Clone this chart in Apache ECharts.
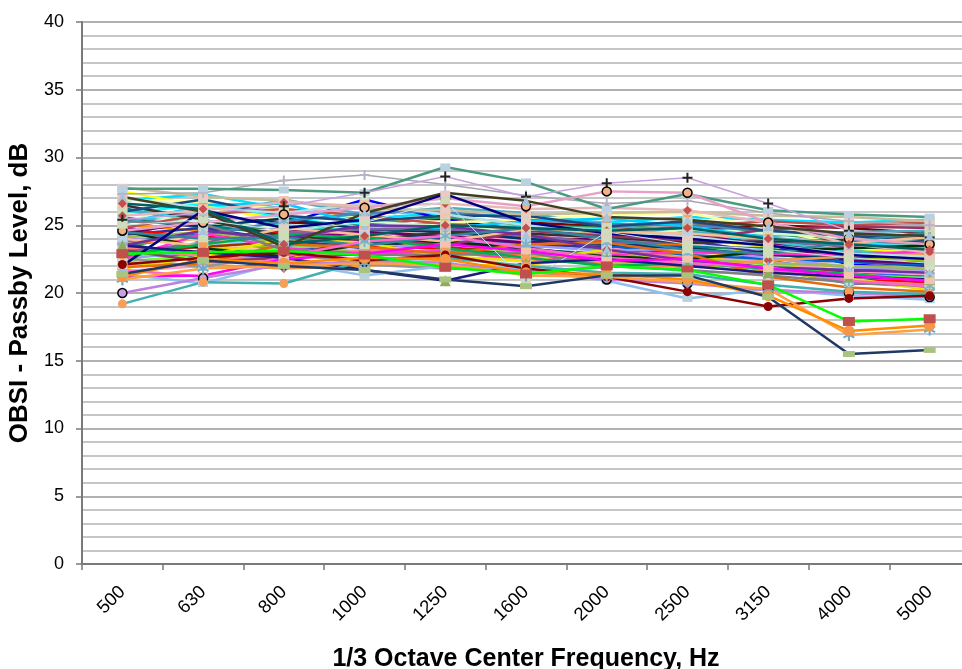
<!DOCTYPE html>
<html>
<head>
<meta charset="utf-8">
<title>OBSI Passby Level</title>
<script src="https://cdn.jsdelivr.net/npm/echarts@6/dist/echarts.min.js"></script>
<style>
  html, body { margin: 0; padding: 0; background: #ffffff; }
  #chart { width: 962px; height: 669px; }
</style>
</head>
<body>
<div id="chart"></div>
<script>
// 1/3 octave band centre frequencies (Hz)
const frequencies = ['500', '630', '800', '1000', '1250', '1600', '2000', '2500', '3150', '4000', '5000'];

// Passby level per run, dB, one value per band
const run01 = [26.8, 27.3, 26.2, 25.5, 25.9, 25.6, 25.2, 25.6, 25.4, 25.2, 25.4];
const run02 = [27.5, 26.4, 25.4, 24.9, 24.6, 24.5, 24.3, 24.0, 23.4, 23.2, 23.0];
const run03 = [24.0, 24.4, 25.1, 26.9, 25.4, 24.6, 24.2, 24.4, 23.6, 22.1, 21.8];
const run04 = [26.0, 25.7, 25.2, 25.1, 25.5, 25.2, 24.9, 24.6, 25.0, 24.8, 24.4];
const run05 = [25.0, 24.6, 24.0, 23.8, 23.2, 23.4, 23.6, 23.1, 22.6, 21.8, 21.4];
const run06 = [24.5, 23.2, 23.5, 24.3, 24.8, 24.1, 23.9, 23.5, 23.0, 22.6, 22.4];
const run07 = [23.3, 24.6, 24.9, 25.1, 25.6, 25.0, 24.8, 25.2, 24.4, 23.8, 23.6];
const run08 = [22.7, 22.9, 23.4, 23.9, 24.4, 23.7, 23.3, 23.5, 22.4, 21.5, 21.2];
const run09 = [23.6, 24.0, 24.6, 24.2, 24.0, 24.2, 23.8, 23.6, 23.2, 22.9, 22.6];
const run10 = [25.6, 24.8, 24.5, 24.0, 23.5, 23.8, 23.2, 22.8, 21.8, 20.7, 20.6];
const run11 = [22.4, 23.6, 22.8, 22.4, 22.0, 22.1, 22.6, 22.8, 22.2, 21.4, 21.0];
const run12 = [25.8, 26.6, 25.6, 24.8, 24.6, 24.9, 24.7, 24.2, 23.9, 23.6, 23.9];
const run13 = [24.9, 23.8, 24.1, 24.4, 23.6, 23.4, 23.8, 24.1, 23.7, 23.1, 22.7];
const run14 = [26.3, 25.0, 24.3, 23.7, 23.9, 23.2, 22.9, 23.4, 23.3, 24.0, 24.3];
const run15 = [21.6, 22.0, 23.2, 24.5, 24.3, 23.9, 23.4, 22.9, 22.3, 21.6, 21.4];
const run16 = [23.9, 24.2, 23.6, 23.1, 23.7, 24.4, 24.0, 23.8, 23.0, 22.5, 22.2];
const run17 = [22.9, 23.4, 24.2, 22.6, 22.3, 22.6, 22.1, 21.6, 21.4, 21.9, 22.0];
const run18 = [24.2, 23.9, 22.9, 23.2, 22.6, 22.3, 22.7, 23.2, 22.7, 22.0, 21.6];
const run19 = [25.2, 25.9, 25.0, 24.6, 25.3, 24.3, 24.4, 24.6, 23.8, 23.1, 22.8];
const run20 = [23.1, 23.4, 23.8, 24.0, 23.4, 22.9, 22.4, 22.1, 21.9, 21.6, 21.9];
const run21 = [24.3, 24.8, 23.9, 23.3, 24.1, 23.6, 23.4, 23.9, 22.9, 22.3, 22.0];
const run22 = [22.3, 22.8, 23.3, 23.6, 23.2, 23.0, 22.9, 22.6, 22.1, 21.3, 21.1];
const run23 = [24.7, 24.1, 24.5, 23.4, 23.3, 22.8, 22.5, 22.3, 21.6, 21.0, 20.8];
const run24 = [23.7, 22.6, 23.1, 23.5, 24.6, 24.0, 23.5, 22.8, 22.5, 22.3, 22.1];
const run25 = [22.5, 23.1, 22.5, 23.0, 23.9, 23.5, 23.1, 23.3, 22.6, 21.9, 21.7];
const run26 = [24.4, 25.3, 24.7, 24.5, 24.2, 23.7, 24.1, 24.3, 23.6, 22.4, 22.2];
const run27 = [23.4, 22.7, 22.4, 23.2, 23.0, 22.7, 23.0, 22.6, 21.8, 20.9, 20.6];
const run28 = [26.1, 25.6, 26.9, 25.8, 26.3, 25.9, 25.0, 24.5, 24.2, 24.5, 24.6];
const run29 = [25.4, 24.9, 25.5, 24.7, 24.5, 24.0, 23.6, 23.3, 22.8, 22.6, 22.9];
const run30 = [24.1, 24.5, 23.7, 22.9, 22.9, 22.7, 22.3, 22.5, 22.2, 22.0, 21.8];
const run31 = [26.9, 26.7, 26.2, 25.6, 25.2, 25.4, 25.8, 25.9, 24.8, 23.4, 23.1];
const run32 = [25.9, 25.2, 24.8, 25.3, 24.9, 24.6, 24.0, 24.7, 24.4, 24.1, 23.8];
const run33 = [23.0, 23.7, 24.4, 24.7, 24.7, 24.2, 23.7, 23.7, 23.9, 23.4, 23.2];
const run34 = [22.2, 22.1, 21.8, 22.0, 22.4, 22.8, 22.2, 21.9, 22.4, 22.7, 22.9];
const run35 = [24.8, 25.8, 26.2, 25.7, 25.1, 24.7, 24.5, 24.9, 25.3, 25.0, 25.2];
const run36 = [23.8, 24.3, 25.3, 25.9, 26.0, 25.4, 25.1, 25.0, 24.6, 24.3, 24.0];
const run37 = [26.5, 25.4, 24.2, 23.9, 24.5, 24.4, 24.1, 23.7, 23.8, 23.9, 23.7];
const run38 = [22.6, 21.9, 23.0, 22.1, 21.8, 21.6, 21.9, 22.4, 21.7, 20.8, 20.4];
const run39 = [22.5, 24.4, 23.3, 22.9, 23.1, 22.4, 22.8, 23.0, 22.9, 22.8, 23.1];
const run40 = [25.1, 26.5, 26.6, 25.0, 24.8, 25.3, 25.5, 24.9, 24.1, 23.6, 23.4];
const run41 = [24.6, 23.3, 22.7, 23.6, 23.8, 23.3, 22.7, 22.5, 23.1, 23.3, 23.5];
const run42 = [23.2, 22.3, 22.6, 24.1, 23.5, 24.6, 24.2, 23.9, 24.7, 24.9, 24.8];
const run43 = [21.8, 22.7, 24.0, 23.7, 22.7, 22.4, 23.2, 22.3, 21.5, 21.1, 20.2];
const run44 = [26.0, 26.9, 25.7, 25.3, 25.7, 25.7, 24.9, 25.3, 24.6, 24.2, 23.9];
const run45 = [21.9, 22.2, 23.6, 23.4, 22.9, 23.6, 23.7, 22.9, 21.2, 20.4, 20.1];
const run46 = [27.0, 26.3, 25.9, 26.6, 25.8, 25.0, 24.6, 24.2, 23.5, 22.9, 22.7];
const run47 = [24.0, 23.5, 24.8, 24.3, 23.8, 24.7, 24.5, 24.4, 24.0, 23.7, 24.1];
const run48 = [25.3, 25.1, 23.2, 22.8, 22.8, 23.0, 22.0, 21.7, 21.3, 20.8, 20.5];
const run49 = [22.8, 23.6, 24.3, 24.1, 23.3, 22.6, 22.0, 22.2, 21.8, 21.4, 20.9];
const run50 = [23.5, 24.6, 24.0, 25.0, 24.9, 24.3, 23.2, 22.4, 21.9, 21.7, 21.5];
const run51 = [27.8, 27.1, 26.8, 26.2, 26.1, 25.8, 25.9, 26.0, 25.7, 25.6, 25.3];
const run52 = [25.7, 26.1, 26.7, 26.4, 26.6, 26.2, 26.3, 26.1, 25.2, 23.6, 23.0];
const run53 = [24.5, 24.0, 24.1, 23.5, 24.2, 24.8, 24.0, 23.2, 22.9, 23.8, 24.5];
const run54 = [21.7, 21.2, 22.7, 23.8, 24.2, 23.3, 22.6, 22.2, 21.9, 20.9, 20.5];
const run55 = [27.3, 27.4, 28.3, 28.7, 28.0, 27.2, 26.6, 26.8, 25.9, 25.3, 25.0];
const run56 = [27.7, 27.7, 27.6, 27.4, 29.3, 28.2, 26.2, 27.3, 26.1, 25.8, 25.6];
const run57 = [25.4, 25.9, 26.4, 27.4, 28.6, 27.1, 28.1, 28.5, 26.6, 24.6, 24.1];
const run58 = [24.6, 25.2, 25.8, 26.3, 27.0, 26.4, 27.5, 27.4, 25.2, 24.0, 23.6];
const run59 = [27.1, 26.0, 23.4, 25.9, 27.4, 26.8, 25.6, 25.4, 24.9, 24.4, 24.2];
const run60 = [22.0, 26.1, 24.8, 25.4, 27.3, 25.2, 24.4, 24.0, 23.5, 22.8, 22.5];
const run61 = [26.6, 26.2, 23.6, 24.2, 25.0, 24.8, 24.6, 24.8, 24.0, 23.6, 23.2];
const run62 = [25.0, 25.4, 24.6, 25.2, 26.8, 20.8, 24.5, 23.6, 23.2, 22.6, 22.2];
const run63 = [23.5, 23.0, 22.6, 21.7, 20.9, 22.2, 22.5, 22.0, 21.5, 21.2, 21.0];
const run64 = [21.2, 21.3, 22.5, 22.9, 23.6, 23.1, 22.4, 22.5, 21.8, 21.3, 20.9];
const run65 = [21.4, 20.7, 22.3, 21.3, 22.0, 21.8, 20.9, 19.6, 20.3, 19.8, 19.5];
const run66 = [20.0, 21.1, 22.1, 22.3, 22.2, 21.6, 21.0, 20.7, 20.2, 20.0, 19.7];
const run67 = [19.2, 20.8, 20.7, 22.4, 22.6, 22.0, 21.5, 21.4, 20.6, 20.1, 19.9];
const run68 = [22.1, 22.6, 23.0, 22.4, 22.8, 21.8, 21.2, 20.1, 19.0, 19.6, 19.8];
const run69 = [21.0, 21.8, 22.0, 22.2, 22.1, 21.3, 21.2, 20.8, 20.3, 16.9, 17.3];
const run70 = [21.2, 22.5, 22.2, 22.6, 22.5, 21.5, 21.4, 21.0, 19.8, 17.2, 17.6];
const run71 = [22.9, 23.0, 23.1, 22.8, 21.9, 21.4, 22.0, 21.7, 20.6, 17.9, 18.1];
const run72 = [21.4, 22.4, 22.0, 21.7, 21.0, 20.5, 21.3, 21.3, 19.7, 15.5, 15.8];

const runs = [
  run01, run02, run03, run04, run05, run06, run07, run08, run09, run10, run11, run12,
  run13, run14, run15, run16, run17, run18, run19, run20, run21, run22, run23, run24,
  run25, run26, run27, run28, run29, run30, run31, run32, run33, run34, run35, run36,
  run37, run38, run39, run40, run41, run42, run43, run44, run45, run46, run47, run48,
  run49, run50, run51, run52, run53, run54, run55, run56, run57, run58, run59, run60,
  run61, run62, run63, run64, run65, run66, run67, run68, run69, run70, run71, run72
];

// Axis ticks (dB)
const yTicks = { min: 0, max: 40, step: 5 };

// Line colour for each run, in the same order as runs
const lineColors = [
  '#00e0ff', '#ffff00', '#0000ff', '#800000', '#ff9900', '#99cc00', '#339966', '#3366ff',
  '#ff6600', '#666699', '#ffcc00', '#00ffff', '#800080', '#008080', '#ff99cc', '#cc99ff',
  '#99ccff', '#ffcc99', '#33cccc', '#993300', '#333399', '#66ff33', '#ff0000', '#0066cc',
  '#9999ff', '#660066', '#ff8080', '#4bacc6', '#003366', '#9bbb59', '#ffff99', '#ccffcc',
  '#8064a2', '#f79646', '#c0504d', '#4f81bd', '#333333', '#969696', '#ff33cc', '#00ccff',
  '#003300', '#993366', '#e6e600', '#1f497d', '#e46c0a', '#b7dee8', '#fabf8f', '#7f7f7f',
  '#00b050', '#7030a0', '#c4bd97', '#e6b9b8', '#31859c', '#ff66cc', '#a6a6b0', '#4a9a80',
  '#c8a0e0', '#e8a0c8', '#404020', '#000080', '#006060', '#bfeaf2', '#1a1a80', '#ff00ff',
  '#90c0f0', '#c080e0', '#40b0b0', '#8b0000', '#ffa040', '#ff8c00', '#00ff00', '#1f3864'
];

const PLUS = 'path://M4,0H6V4H10V6H6V10H4V6H0V4H4Z';
const STAR = 'path://M4.2,0H5.8V3.4L8.7,1.7L9.5,3.1L6.6,4.8L9.5,6.5L8.7,7.9L5.8,6.2V10H4.2V6.2L1.3,7.9L0.5,6.5L3.4,4.8L0.5,3.1L1.3,1.7L4.2,3.4Z';

// Marker looks cycled over the runs
const markerKinds = [
  { symbol: 'rect', size: [10, 7], fill: '#f2c4ae' },
  { symbol: 'rect', size: [10, 7], fill: '#b9d1e1' },
  { symbol: 'diamond', size: 10, fill: '#d4e2bf' },
  { symbol: 'circle', size: 9, fill: '#f59f58' },
  { symbol: 'triangle', size: 9, fill: '#a7c4de' },
  { symbol: 'rect', size: [10, 7], fill: '#e7cbc4' },
  { symbol: 'diamond', size: 9, fill: '#c3504e' },
  { symbol: 'rect', size: [10, 7], fill: '#cfdcb9' },
  { symbol: STAR, size: 11, fill: '#7eb2cc' }
];
// Individual runs drawn with their own marker
const markerOverrides = {
  54: { symbol: PLUS, size: 10, fill: '#b4b4c4' },
  56: { symbol: PLUS, size: 10, fill: '#222222' },
  57: { symbol: 'circle', size: 9, fill: '#f4b183', border: '#000000' },
  62: { symbol: 'triangle', size: 11, fill: '#8faa5a' },
  65: { symbol: 'circle', size: 9, fill: '#c7a0e8', border: '#000000' },
  67: { symbol: 'circle', size: 9, fill: '#8b0000' },
  71: { symbol: 'rect', size: [12, 6], fill: '#a9c47f' },
  70: { symbol: 'rect', size: [12, 9], fill: '#c0504d' },
  69: { symbol: 'circle', size: 11, fill: '#f79646' },
  68: { symbol: STAR, size: 12, fill: '#6fa8c8' }
};

const thinRuns = { 61: 1, 54: 1.5, 56: 1.5 };

const series = runs.map((values, i) => {
  const kind = markerOverrides[i] || markerKinds[i % markerKinds.length];
  return {
    type: 'line',
    data: values,
    symbol: kind.symbol,
    symbolSize: kind.size,
    showAllSymbol: true,
    lineStyle: { color: lineColors[i], width: thinRuns[i] || 2.5 },
    itemStyle: {
      color: kind.fill,
      borderColor: kind.border || kind.fill,
      borderWidth: kind.border ? 1.5 : 0,
      opacity: 1
    },
    emphasis: { disabled: true },
    animation: false
  };
});

const chart = echarts.init(document.getElementById('chart'), null, { renderer: 'canvas' });
chart.setOption({
  backgroundColor: '#ffffff',
  animation: false,
  grid: { left: 82, right: -8, top: 22, bottom: 105, containLabel: false, outerBoundsMode: 'none' },
  xAxis: {
    type: 'category',
    data: frequencies,
    boundaryGap: true,
    name: '1/3 Octave Center Frequency, Hz',
    nameLocation: 'middle',
    nameGap: 83,
    nameTextStyle: { fontFamily: 'Liberation Sans', fontWeight: 'bold', fontSize: 25, color: '#000' },
    axisLine: { show: true, lineStyle: { color: '#7a7a7a', width: 2 } },
    axisTick: { show: true, alignWithLabel: false, interval: 0, length: 6, lineStyle: { color: '#7a7a7a', width: 1.5 } },
    axisLabel: { rotate: 45, interval: 0, margin: 25, fontFamily: 'Liberation Sans', fontSize: 18.5, color: '#000' },
    splitLine: { show: false }
  },
  yAxis: {
    type: 'value',
    min: yTicks.min,
    max: yTicks.max,
    interval: yTicks.step,
    name: 'OBSI - Passby Level, dB',
    nameLocation: 'middle',
    nameGap: 47,
    nameRotate: 90,
    nameTextStyle: { fontFamily: 'Liberation Sans', fontWeight: 'bold', fontSize: 26, color: '#000' },
    axisLine: { show: true, lineStyle: { color: '#7a7a7a', width: 2 } },
    axisTick: { show: true, length: 6, lineStyle: { color: '#7a7a7a', width: 1.5 } },
    axisLabel: { margin: 18, fontFamily: 'Liberation Sans', fontSize: 18, color: '#000' },
    splitLine: { show: true, lineStyle: { color: '#979797', width: 1.5 } },
    minorTick: { show: false, splitNumber: 5 },
    minorSplitLine: { show: true, lineStyle: { color: '#c6c6c6', width: 2 } }
  },
  series: series
});
</script>
</body>
</html>
